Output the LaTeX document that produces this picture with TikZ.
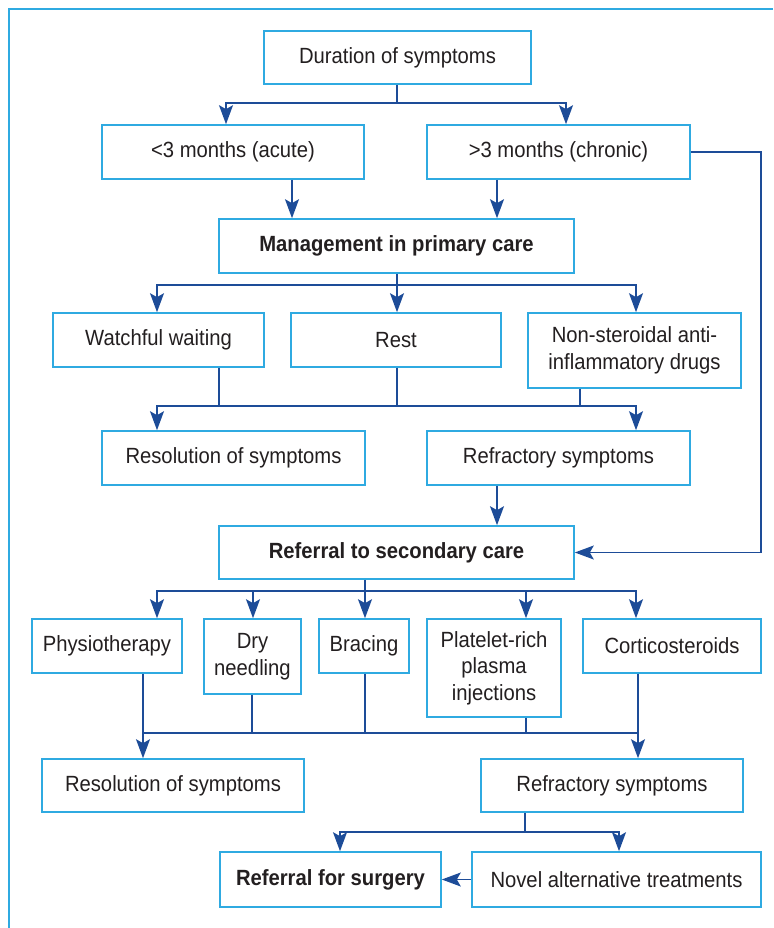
\documentclass[tikz,border=0pt]{standalone}
\usepackage{fontspec}
\setmainfont{Liberation Sans}[FakeStretch=0.92]
\usepackage{xcolor}
\usepackage{tikz}
\usetikzlibrary{arrows.meta,positioning,calc}
\definecolor{framecyan}{HTML}{2FAAE1}
\definecolor{linkblue}{HTML}{1D4C98}
\definecolor{ink}{HTML}{231F20}
\tikzset{
  flowbox/.style={
    rectangle, draw=framecyan, fill=white, line width=1.6pt,
    text=ink, font=\fontsize{22}{26.5}\selectfont, align=center,
    inner sep=0pt
  },
  keybox/.style={
    flowbox, font=\fontsize{22}{26.5}\selectfont\bfseries
  },
  link/.style={
    line width=1.5pt, color=linkblue
  },
  arrow/.style={
    link, -{Stealth[length=19pt, width=14pt, inset=4pt]}
  },
}

\begin{document}
\begin{tikzpicture}[x=1pt, y=-1pt]
\useasboundingbox (0,0) rectangle (773,928);
\draw[framecyan, line width=2pt] (773,9) -| (9,928);
% primary care
\node[flowbox, minimum width=267, minimum height=53] (dur) at (397.5,57.5) {Duration of symptoms};
\node[flowbox, minimum width=262, minimum height=54] (acute) at (233,152) {<3 months (acute)};
\node[flowbox, minimum width=263, minimum height=54] (chronic) at (558.5,152) {>3 months (chronic)};
\node[keybox, minimum width=355, minimum height=54] (prim) at (396.5,246) {Management in primary care};
\node[flowbox, minimum width=211, minimum height=54] (wait) at (158.5,340) {Watchful waiting};
\node[flowbox, minimum width=210, minimum height=54] (rest) at (396,340) {Rest};
\node[flowbox, minimum width=213, minimum height=75] (nsaid) at (634.5,350.5) {Non-steroidal anti-\\inflammatory drugs};
\node[flowbox, minimum width=263, minimum height=54] (res1) at (233.5,458) {Resolution of symptoms};
\node[flowbox, minimum width=263, minimum height=54] (ref1) at (558.5,458) {Refractory symptoms};
% secondary care
\node[keybox, minimum width=355, minimum height=53] (sec) at (396.5,552.5) {Referral to secondary care};
\node[flowbox, minimum width=150, minimum height=54] (physio) at (107,646) {Physiotherapy};
\node[flowbox, minimum width=97, minimum height=75] (dry) at (252.5,656.5) {Dry\\needling};
\node[flowbox, minimum width=90, minimum height=54] (brace) at (364,646) {Bracing};
\node[flowbox, minimum width=134, minimum height=98] (prp) at (494,668) {Platelet-rich\\plasma\\injections};
\node[flowbox, minimum width=178, minimum height=54] (cort) at (672,646) {Corticosteroids};
\node[flowbox, minimum width=262, minimum height=53] (res2) at (173,785.5) {Resolution of symptoms};
\node[flowbox, minimum width=262, minimum height=53] (ref2) at (612,785.5) {Refractory symptoms};
\node[keybox, minimum width=221, minimum height=55] (surg) at (330.5,879.5) {Referral for surgery};
\node[flowbox, minimum width=289, minimum height=55] (novel) at (616.5,879.5) {Novel alternative treatments};
% connectors
\coordinate (jdur) at (397,103);
\draw[link] (397,0 |- dur.south) -- (jdur);
\draw[arrow] (jdur) -| (226,0 |- acute.north);
\draw[arrow] (jdur) -| (566,0 |- chronic.north);
\draw[arrow] (292,0 |- acute.south) -- (292,0 |- prim.north);
\draw[arrow] (497,0 |- chronic.south) -- (497,0 |- prim.north);
\draw[arrow] (chronic.east) -- (761,0 |- chronic.east) |- (sec.east);
\coordinate (jprim) at (397,285);
\draw[link] (397,0 |- prim.south) -- (jprim);
\draw[arrow] (jprim) -| (157,0 |- wait.north);
\draw[arrow] (jprim) -| (636,0 |- nsaid.north);
\draw[arrow] (jprim) -- (397,0 |- rest.north);
\coordinate (jmgmt) at (397,406);
\draw[link] (219,0 |- wait.south) -- (219,406);
\draw[link] (397,0 |- rest.south) -- (jmgmt);
\draw[link] (580,0 |- nsaid.south) -- (580,406);
\draw[arrow] (jmgmt) -| (157,0 |- res1.north);
\draw[arrow] (jmgmt) -| (636,0 |- ref1.north);
\draw[arrow] (497,0 |- ref1.south) -- (497,0 |- sec.north);
\coordinate (jsec) at (365,591);
\draw[link] (365,0 |- sec.south) -- (jsec);
\draw[arrow] (jsec) -| (157,0 |- physio.north);
\draw[arrow] (jsec) -| (253,0 |- dry.north);
\draw[arrow] (jsec) -- (365,0 |- brace.north);
\draw[arrow] (jsec) -| (526,0 |- prp.north);
\draw[arrow] (jsec) -| (636,0 |- cort.north);
\coordinate (jtreat) at (365,733);
\draw[link] (252,0 |- dry.south) -- (252,733);
\draw[link] (365,0 |- brace.south) -- (jtreat);
\draw[link] (526,0 |- prp.south) -- (526,733);
\draw[link] (143,733) -- (638,733);
\draw[arrow] (143,0 |- physio.south) -- (143,0 |- res2.north);
\draw[arrow] (638,0 |- cort.south) -- (638,0 |- ref2.north);
\coordinate (jref) at (525,832);
\draw[link] (525,0 |- ref2.south) -- (jref);
\draw[arrow] (jref) -| (340,0 |- surg.north);
\draw[arrow] (jref) -| (619,0 |- novel.north);
\draw[arrow] (novel.west) -- (surg.east);
\end{tikzpicture}
\end{document}
